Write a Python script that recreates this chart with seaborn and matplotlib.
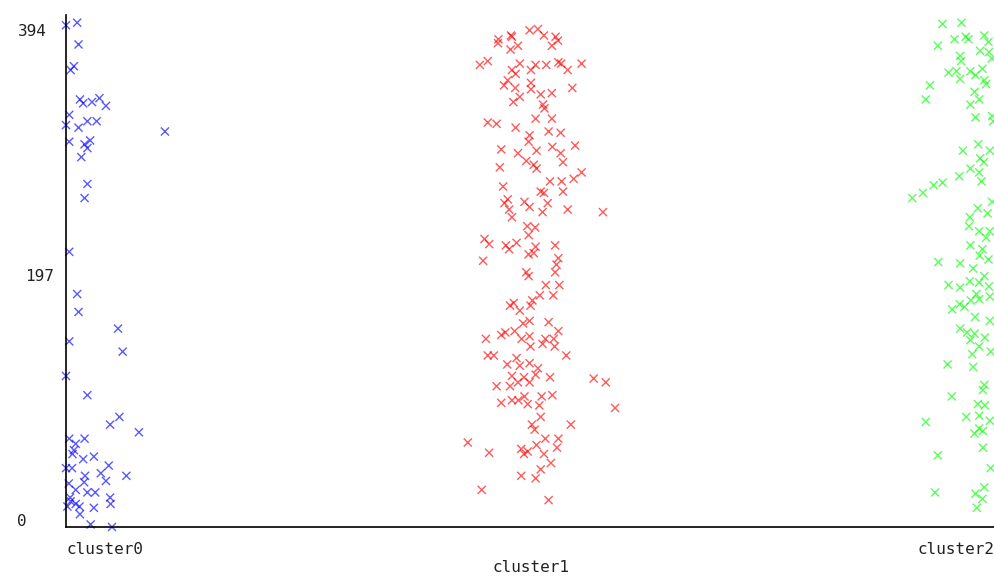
import numpy as np
import pandas as pd
import seaborn as sns
import matplotlib.pyplot as plt
from matplotlib.transforms import ScaledTranslation

# cluster names on the x axis
clusters = ["cluster0", "cluster1", "cluster2"]

# instance numbers (y) and jitter around each cluster (x)
c0_jit = [0.000, .024, .027, .017, .010, .030, .037, .056, .072, .086, .007, .000, .027, .046, .066, .213,
          .007, .040, .052, .046, .033, .046, .040, .007,
          .024, .027, .112, .007, .122, .000, .046, .115, .095, .157, .007, .040, .021, .017, .014, .037,
          .060, .000, .013, .092, .075, .041, .086, .130, .006, .039, .021, .046, .063, .010, .021, .003,
          .029, .030, .060, .095, .096, .053, .099, .009]
c0_inst = [392, 394, 377, 360, 357, 334, 331, 332, 335, 329, 322, 314, 312, 317, 317, 309,
           301, 299, 302, 296, 289, 268, 257, 215,
           182, 168, 155, 145, 137, 118, 103, 86, 80, 74, 69, 69, 65, 60, 57, 53,
           55, 46, 46, 48, 42, 40, 36, 40, 34, 35, 29, 27, 27, 20, 18, 16,
           16, 10, 15, 23, 18, 2, 0, 23]

c1_jit = [-.002, .016, .029, .054, .059, -.069, -.042, -.040, -.070, -.043, -.027, .046,
          -.109, -.092, -.023, -.040, -.032, .001, .011, .034, .060, .066, .080, .110,
          -.049, -.057, -.033, .001, .001, .046, .090, .022, -.023, -.037, .027, .030,
          -.092, -.073, -.032, .011, .046, -.002, -.004, .039, .065,
          -.063, -.027, .013, .047, .065, .096, -.009, .007, .013, .070, -.066,
          -.059, .022, .029, .042, .067, .070, .093, .110,
          -.049, -.056, -.046, -.040, -.013, -.002, .037, .026, .080, .156,
          -.007, .010, -.004,
          -.099, -.089, -.053, -.046, -.030, -.004, .007, .011, .053, -.102, .060, .056,
          -.009, -.004, .053, .033, .062, .049, .020, .004, .000, -.044, -.036, -.023,
          -.016, -.002, .039, .060, -.096, -.063, -.054, -.034, -.019, -.002, .032, .050, .052, .026, .000,
          -.092, -.079, .077,
          -.050, -.023, -.002, .016, -.030, -.040, -.014, .011, .042, -.073, -.044, -.027, -.002, .136, .162,
          -.063, -.040, -.026, -.013, -.006, .024, .047, .019, .022, .182,
          .003, .009, .087, -.135, -.089, -.020, -.006, -.014, .013, .032, .060, .057, .029, .044, .022,
          -.020, .011, -.105, .039]
c1_inst = [388, 389, 384, 383, 380, 381, 384, 383, 378, 373, 376, 376,
           361, 364, 362, 357, 354, 357, 361, 361, 363, 362, 357, 362,
           349, 345, 343, 347, 342, 339, 343, 338, 336, 332, 330, 327,
           316, 315, 312, 319, 319, 306, 301, 309, 308,
           295, 292, 294, 297, 292, 298, 286, 283, 280, 285, 281,
           266, 262, 261, 270, 270, 262, 272, 277,
           256, 253, 248, 242, 254, 250, 253, 246, 248, 246,
           235, 234, 228,
           225, 221, 220, 217, 222, 213, 214, 219, 220, 208, 210, 205,
           199, 196, 199, 189, 189, 181, 181, 177, 173, 173, 175, 169,
           159, 161, 160, 153, 147, 150, 152, 153, 147, 149, 147, 147, 141, 143, 141,
           134, 134, 134,
           127, 126, 128, 124, 132, 118, 117, 119, 117, 110, 110, 113, 113, 116, 113,
           97, 99, 99, 102, 96, 102, 103, 95, 86, 93,
           80, 76, 80, 66, 58, 61, 59, 57, 64, 69, 69, 62, 57, 50, 45,
           40, 38, 29, 21]

c2_jit = [-.113, -.072, -.087, -.063, -.057, -.123, -.023, -.014, -.032, -.013, -.007, -.075, -.073, -.083,
          -.100, -.075, -.053, -.042, -.027, -.023, -.019, -.140, -.149, -.044, -.034, -.053, -.042, -.006, -.004,
          -.069, -.036, -.011, -.032, -.024, -.053, -.034, -.077, -.113, -.132, -.155, -.178, -.029,
          -.006, -.037, -.054, -.016, -.056, -.034, -.011, -.019, -.053, -.027, -.033, -.014, -.122, -.075, -.047,
          -.023, -.100, -.075, -.054, -.034, -.013, -.040, -.052, -.092, -.076, -.066, -.034, -.011, -.043,
          -.011, -.075, -.060, -.044, -.053, -.022, -.034, -.049, -.009, -.102, -.047,
          -.023, -.026, -.093, -.037, -.022, -.062, -.034, -.011, -.149, -.044, -.034, -.026, -.026, -.123,
          -.009, -.129, -.042, -.023, -.027, -.039]
c2_inst = [393, 394, 381, 383, 381, 376, 384, 379, 372, 371, 366, 368, 364, 356,
           355, 350, 356, 353, 358, 349, 346, 345, 334, 340, 334, 330, 320, 321, 317,
           294, 299, 294, 288, 285, 280, 277, 274, 269, 267, 261, 257, 270,
           254, 249, 242, 245, 235, 231, 231, 226, 220, 217, 212, 209, 207, 206, 202,
           196, 189, 187, 192, 191, 188, 182, 177, 170, 174, 172, 178, 180, 164,
           161, 155, 152, 151, 146, 148, 141, 135, 137, 127, 125,
           111, 107, 102, 96, 95, 86, 87, 83, 82, 73, 77, 75, 62, 56,
           46, 27, 26, 31, 22, 15]

frames = []
for i, (jit, inst) in enumerate([(c0_jit, c0_inst), (c1_jit, c1_inst), (c2_jit, c2_inst)]):
    frames.append(pd.DataFrame({"x": i + np.array(jit), "instance": inst, "cluster": clusters[i]}))
df = pd.concat(frames, ignore_index=True)

sns.set_style("white")
mono = "DejaVu Sans Mono"

fig = plt.figure(figsize=(9.95, 5.76), dpi=100)
ax = fig.add_axes([66 / 995, 49 / 576, 929 / 995, 512 / 576])

sns.scatterplot(data=df, x="x", y="instance", hue="cluster",
                palette={"cluster0": "#0000ff", "cluster1": "#ff0000", "cluster2": "#00ff00"},
                marker="x", s=34, linewidth=1.0, alpha=0.65, legend=False, ax=ax, clip_on=False)

ax.set_xlim(0, 929 / 465)
ax.set_ylim(0, 400)
sns.despine(ax=ax)
for side in ["left", "bottom"]:
    ax.spines[side].set_color("black")
    ax.spines[side].set_linewidth(1.2)

ax.set_xticks([0, 1, 2], clusters, fontsize=11.5, family=mono, color="#222222")
ax.set_yticks([0, 197, 394], ["0", "197", "394"], fontsize=11.5, family=mono, color="#222222")
ax.tick_params(axis="both", length=8, width=1, color="black", direction="out")
ax.tick_params(axis="y", pad=1)
ax.tick_params(axis="x", pad=3)
ax.set_xlabel("")
ax.set_ylabel("")

xl = ax.get_xticklabels()
xl[0].set_ha("left")
xl[2].set_ha("right")
xl[1].set_transform(xl[1].get_transform() + ScaledTranslation(0, -13 / 72, fig.dpi_scale_trans))

# weka draws the end labels a little inside the range and further left
yl = ax.get_yticklabels()
yl[0].set_transform(yl[0].get_transform() + ScaledTranslation(-19 / 72, 5 / 72, fig.dpi_scale_trans))
yl[2].set_transform(yl[2].get_transform() + ScaledTranslation(-5 / 72, -5 / 72, fig.dpi_scale_trans))

fig.savefig("out.png", dpi=100)
